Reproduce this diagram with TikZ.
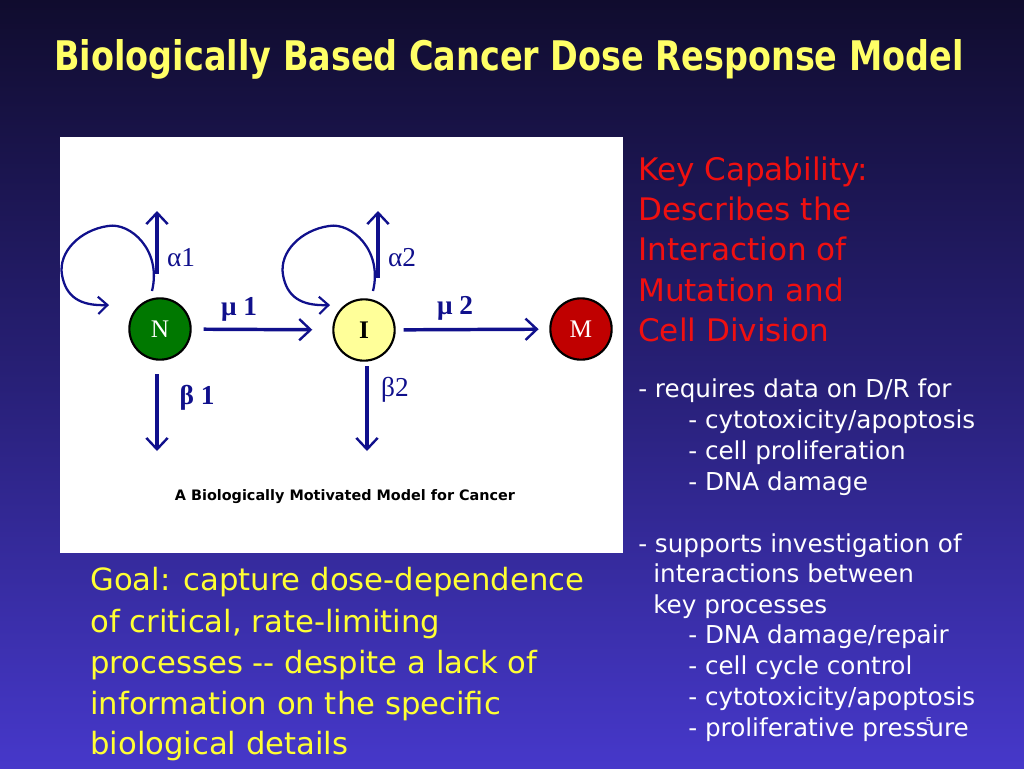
\documentclass[tikz,border=0pt]{standalone}
\usepackage{fontspec}
\setmainfont{DejaVu Sans}
\newfontfamily\serifx{Liberation Serif}
\newfontfamily\titlex[FakeStretch=0.82]{DejaVu Sans}
\usetikzlibrary{arrows.meta}
\definecolor{bgtop}{RGB}{16,12,46}
\definecolor{bgmid}{RGB}{40,32,120}
\definecolor{bgbot}{RGB}{70,56,202}
\definecolor{navy}{RGB}{16,16,140}
\definecolor{ttl}{RGB}{255,255,102}
\definecolor{goaly}{RGB}{255,255,51}
\definecolor{keyred}{RGB}{240,16,16}
\definecolor{cellN}{RGB}{0,120,0}
\definecolor{cellI}{RGB}{255,255,153}
\definecolor{cellM}{RGB}{192,0,0}
\tikzset{
  x=0.75pt, y=-0.75pt,
  cell/.style={circle, draw=black, line width=1.6pt, minimum size=46pt, inner sep=0pt, font=\serifx\fontsize{19}{19}\selectfont},
  arr/.style={draw=navy, line width=2.6pt, -{Straight Barb[length=8.5pt,width=16pt,line width=1.8pt]}},
  loop/.style={draw=navy, line width=1.7pt, -{Straight Barb[length=7pt,width=13pt,line width=1.6pt]}},
  lbl/.style={text=navy, font=\serifx\fontsize{20.5}{20.5}\selectfont, inner sep=0pt},
  lblb/.style={text=navy, font=\serifx\bfseries\fontsize{20.5}{20.5}\selectfont, inner sep=0pt},
  line/.style={anchor=west, inner sep=0pt, text height=0.75em, text depth=0.22em, yshift=-4.5pt},
  redl/.style={line, text=keyred, font=\fontsize{23.3}{23.3}\selectfont},
  whl/.style={line, text=white, font=\fontsize{18.5}{18.5}\selectfont},
  goal/.style={line, text=goaly, font=\fontsize{23}{23}\selectfont},
}
\begin{document}
\begin{tikzpicture}
\useasboundingbox (0,0) rectangle (1024,768);
\shade[top color=bgtop, bottom color=bgbot, middle color=bgmid] (0,0) rectangle (1024,768);
% title
\node[anchor=center, text=ttl, font=\titlex\bfseries\fontsize{30.6}{30.6}\selectfont, inner sep=0pt] (title) at (509,59) {Biologically Based Cancer Dose Response Model};
% white panel
\fill[white] (60,137) rectangle (623,553);
% cells
\node[cell, fill=cellN, text=white] (N) at (160,329) {N};
\node[cell, fill=cellI, text=black, font=\serifx\bfseries\fontsize{19}{19}\selectfont] (I) at (364,330) {I};
\node[cell, fill=cellM, text=white] (M) at (581,329) {M};
% coordinates
\coordinate (a1s) at (157,274); \coordinate (a1e) at (157,211);
\coordinate (b1s) at (157,374); \coordinate (b1e) at (157,451);
\coordinate (a2s) at (378,278); \coordinate (a2e) at (378,211);
\coordinate (b2s) at (367,366); \coordinate (b2e) at (367,451);
\coordinate (l1s) at (152,291); \coordinate (l1e) at (109,305);
\coordinate (l2s) at (373,291); \coordinate (l2e) at (330,305);
% transitions
\draw[arr, shorten <=9pt, shorten >=15pt] (N) -- (I);
\draw[arr, shorten <=6pt, shorten >=8pt] (I) -- (M);
\draw[arr] (a1s) -- (a1e);
\draw[arr] (b1s) -- (b1e);
\draw[arr] (a2s) -- (a2e);
\draw[arr] (b2s) -- (b2e);
% loops
\draw[loop] (l1s) .. controls (162,250) and (130,222) .. (108,226)
  .. controls (80,230) and (58,252) .. (62,275)
  .. controls (66,297) and (80,306) .. (l1e);
\draw[loop] (l2s) .. controls (383,250) and (351,222) .. (329,226)
  .. controls (301,230) and (279,252) .. (283,275)
  .. controls (287,297) and (301,306) .. (l2e);
% labels
\node[lbl] (la1) at (181,258) {α1};
\node[lblb] (lb1) at (197,398) {β 1};
\node[lblb] (lm1) at (239,309) {μ 1};
\node[lbl] (la2) at (402,258) {α2};
\node[lbl] (lb2) at (395,390) {β2};
\node[lblb] (lm2) at (455,308) {μ 2};
\node[text=black, font=\bfseries\fontsize{10.8}{10.8}\selectfont, inner sep=0pt] (cap) at (345,497) {A Biologically Motivated Model for Cancer};
% red text
\node[redl] (k1) at (638,171) {Key Capability:};
\node[redl] (k2) at (638,211) {Describes the};
\node[redl] (k3) at (638,251) {Interaction of};
\node[redl] (k4) at (638,292) {Mutation and};
\node[redl] (k5) at (638,332) {Cell Division};
% white list
\node[whl] (w1) at (638,388) {- requires data on D/R for};
\node[whl] (w2) at (688,419) {- cytotoxicity/apoptosis};
\node[whl] (w3) at (688,450) {- cell proliferation};
\node[whl] (w4) at (688,481) {- DNA damage};
\node[whl] (w5) at (638,543) {- supports investigation of};
\node[whl] (w6) at (653,573) {interactions between};
\node[whl] (w7) at (653,604) {key processes};
\node[whl] (w8) at (688,634) {- DNA damage/repair};
\node[whl] (w9) at (688,665) {- cell cycle control};
\node[whl] (w10) at (688,696) {- cytotoxicity/apoptosis};
\node[whl] (w11) at (688,727) {- proliferative pressure};
\node[text=white, font=\fontsize{8}{8}\selectfont, inner sep=0pt] (pg) at (929,722) {5};
% goal
\node[goal] (g1) at (90,581) {Goal: capture dose-dependence};
\node[goal] (g2) at (90,623) {of critical, rate-limiting};
\node[goal] (g3) at (90,664) {processes -{}- despite a lack of};
\node[goal] (g4) at (90,705) {information on the specific};
\node[goal] (g5) at (90,745) {biological details};
\end{tikzpicture}
\end{document}
